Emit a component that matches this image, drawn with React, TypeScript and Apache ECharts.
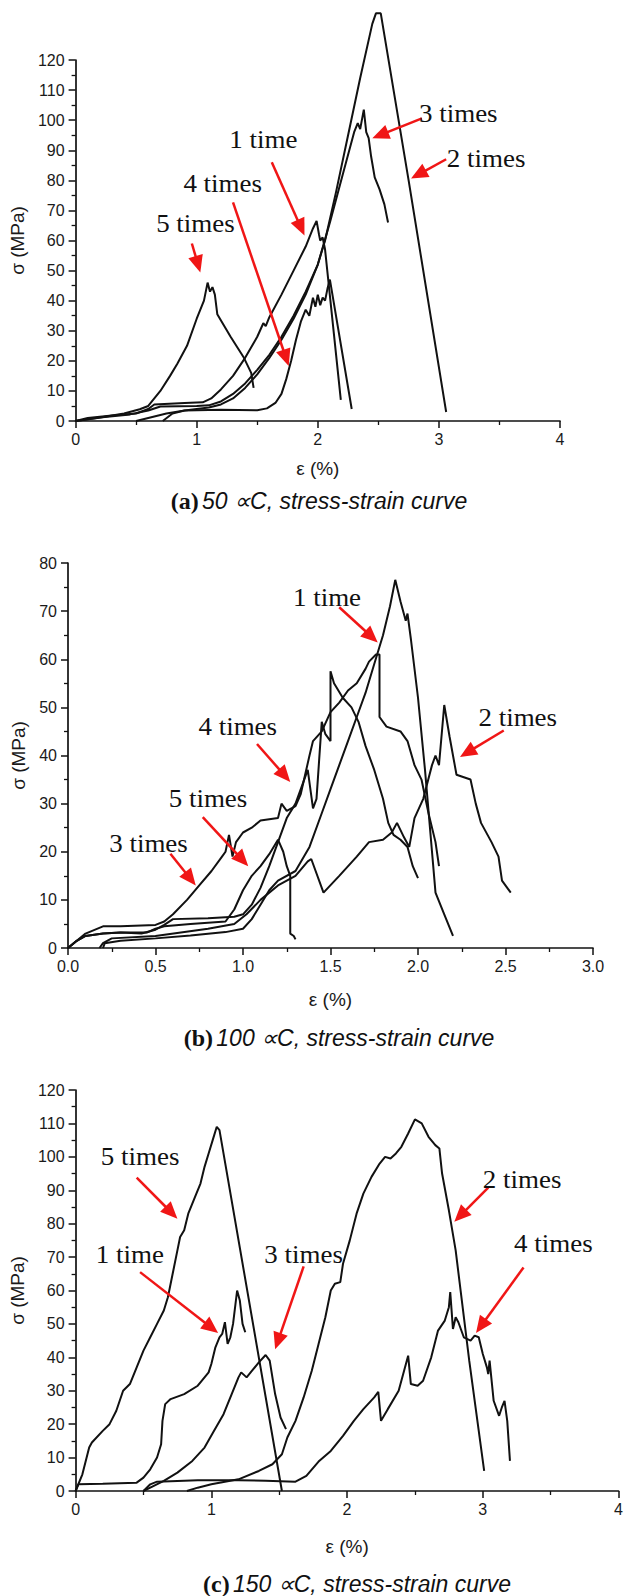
import React, { useEffect, useRef } from 'react';
import * as echarts from 'echarts';

// ---------- Panel (a) 50 ∝C ----------
const a1Time = [[0,0],[0.1,1],[0.3,1.8],[0.5,2.5],[0.6,4],[0.65,5.5],[0.9,6],[1.05,6.2],[1.12,7.5],[1.2,10.5],[1.3,15],[1.4,21],[1.5,28],[1.55,32.5],[1.57,31.5],[1.6,34.5],[1.7,42],[1.8,50],[1.9,58],[1.96,64],[1.99,66.5],[2.01,62],[2.02,60],[2.04,61],[2.06,57],[2.19,7]];
const a2Times = [[0,0],[0.2,1.2],[0.45,2.2],[0.6,3.5],[0.7,4.8],[1.0,5],[1.1,5.2],[1.2,6.5],[1.3,9],[1.4,12.5],[1.5,17],[1.6,22],[1.7,28],[1.8,35],[1.9,43],[2.0,52],[2.06,60],[2.15,76],[2.25,95],[2.35,114],[2.45,132],[2.48,135.5],[2.52,135.5],[2.75,80],[3.06,3]];
const a3Times = [[0.5,0],[0.6,1],[0.75,2.5],[0.9,3.5],[1.1,4.5],[1.2,5.5],[1.3,7.5],[1.4,11],[1.5,15.5],[1.6,21],[1.7,27],[1.8,34],[1.9,42],[2.0,52],[2.1,66],[2.2,81],[2.3,96],[2.33,99],[2.35,97],[2.38,103.5],[2.4,96],[2.42,94],[2.44,88],[2.47,81],[2.51,77],[2.55,72],[2.58,66]];
const a4Times = [[0.72,0],[0.8,2.5],[0.9,3.5],[1.2,3.7],[1.5,3.6],[1.58,4.2],[1.65,6],[1.7,9],[1.74,14],[1.78,20],[1.82,27],[1.86,33],[1.9,37],[1.93,35],[1.96,41],[1.98,38],[2.0,42],[2.02,38.5],[2.04,41],[2.06,40],[2.08,44],[2.1,47],[2.28,4]];
const a5Times = [[0,0],[0.18,1],[0.4,2.5],[0.53,3.9],[0.6,5],[0.7,10],[0.78,15],[0.84,19],[0.92,25],[1.0,34],[1.06,40],[1.09,46],[1.11,43],[1.13,44.5],[1.15,42],[1.17,35.5],[1.28,28],[1.39,21],[1.45,16],[1.47,11]];

// ---------- Panel (b) 100 ∝C ----------
const b1Time = [[0.2,0],[0.21,1],[0.3,1.5],[0.5,2],[0.7,2.6],[0.9,3.3],[1.0,4],[1.05,6],[1.1,9],[1.15,12],[1.2,14],[1.3,16],[1.38,21],[1.45,28],[1.5,33],[1.55,38],[1.6,43],[1.65,48],[1.7,53],[1.75,59],[1.8,65],[1.84,71],[1.87,76.5],[1.9,72],[1.93,68],[1.94,69.5],[1.96,64],[2.0,52],[2.04,37],[2.08,20],[2.1,11.5],[2.15,7],[2.2,2.5]];
const b2Times = [[0.18,0],[0.2,1],[0.25,2],[0.5,2.5],[0.8,4],[0.95,5],[1.02,7],[1.1,10],[1.2,13],[1.3,15],[1.37,18],[1.39,18.5],[1.46,11.5],[1.55,15],[1.65,19],[1.72,22],[1.8,22.5],[1.85,24],[1.88,26],[1.92,23],[1.95,21],[1.98,27],[2.03,31],[2.08,38],[2.1,40],[2.12,38],[2.15,50.5],[2.18,44],[2.22,36],[2.3,35],[2.33,30],[2.36,26],[2.42,22],[2.46,19],[2.48,14],[2.51,12.5],[2.53,11.5]];
const b3Times = [[0,0],[0.05,1.5],[0.1,3],[0.2,4.5],[0.3,4.5],[0.5,4.8],[0.55,5.5],[0.6,7],[0.68,10],[0.75,13],[0.82,16],[0.88,19],[0.9,20],[0.92,23.5],[0.94,19],[0.96,22],[1.0,24],[1.05,25],[1.1,26.5],[1.2,27],[1.22,30],[1.25,28.5],[1.3,29.5],[1.33,32],[1.38,40],[1.4,43],[1.45,45],[1.5,49],[1.55,51],[1.6,53.5],[1.65,55],[1.7,58],[1.72,59.5],[1.76,61],[1.78,61],[1.78,48],[1.82,46],[1.9,45],[1.94,43],[1.98,38],[2.02,35],[2.06,28],[2.1,22],[2.12,17]];
const b4Times = [[0,0],[0.05,1.5],[0.1,2.5],[0.2,3],[0.3,3.2],[0.42,3],[0.5,3.8],[0.55,4.8],[0.6,6],[0.8,6.2],[0.95,6.5],[1.0,7],[1.05,9],[1.1,12.5],[1.15,17],[1.2,22],[1.25,27],[1.3,30],[1.34,34],[1.37,37],[1.4,29],[1.42,31],[1.45,47],[1.47,44.5],[1.5,43],[1.5,57.5],[1.52,55],[1.57,52],[1.62,50],[1.66,47],[1.7,42],[1.75,37],[1.8,31],[1.83,26],[1.86,23.5],[1.9,22.5],[1.94,21],[1.97,17],[2.0,14.5]];
const b5Times = [[0,0],[0.05,1.5],[0.1,2.5],[0.2,3],[0.3,3.2],[0.45,3.2],[0.5,4],[0.55,4.5],[0.7,5],[0.9,5.5],[0.95,8],[1.0,12],[1.05,15],[1.1,17],[1.15,19.5],[1.2,22.5],[1.23,20],[1.25,17],[1.27,15],[1.27,3],[1.29,2.5],[1.3,1.8]];

// ---------- Panel (c) 150 ∝C ----------
const c1Time = [[0,0],[0.02,2],[0.2,2.2],[0.45,2.5],[0.5,4],[0.55,6.5],[0.6,10],[0.63,14],[0.64,21],[0.66,26],[0.7,27.5],[0.8,29],[0.9,31.5],[0.95,34],[0.98,35.5],[1.0,38],[1.03,43],[1.06,46],[1.08,47],[1.1,50.5],[1.12,44],[1.14,46],[1.16,50],[1.19,60],[1.21,57],[1.23,50],[1.25,47.5]];
const c2Times = [[0.82,0],[0.9,1],[1.0,2],[1.2,3.5],[1.35,6],[1.45,8],[1.52,11],[1.56,16],[1.62,21],[1.68,28],[1.74,36],[1.79,44],[1.84,52],[1.88,60],[1.91,62],[1.95,62.5],[1.97,68],[2.02,75],[2.07,83],[2.12,89],[2.18,94],[2.24,98],[2.28,100],[2.32,99.5],[2.36,101],[2.4,103],[2.45,107],[2.5,111.2],[2.55,110],[2.6,106],[2.65,103.5],[2.68,102.5],[2.7,95],[2.75,84],[2.8,72],[2.9,39],[3.01,6]];
const c3Times = [[0.5,0],[0.55,1],[0.65,3],[0.75,5.5],[0.86,9],[0.95,13],[1.02,18],[1.09,23],[1.15,29],[1.2,34],[1.22,35.5],[1.26,34],[1.3,36],[1.35,38.5],[1.4,40.7],[1.43,39],[1.47,29],[1.51,22],[1.55,18.5]];
const c4Times = [[0.5,0],[0.55,2],[0.6,2.8],[0.9,3.2],[1.2,3.2],[1.4,3.1],[1.62,2.8],[1.7,4.5],[1.79,8.8],[1.88,12],[1.97,16.5],[2.05,21],[2.12,24.5],[2.2,28],[2.23,29.7],[2.25,21],[2.3,24.5],[2.38,30],[2.42,36],[2.45,40.5],[2.47,32],[2.52,31.5],[2.56,33],[2.62,40],[2.67,48],[2.72,51],[2.75,55],[2.76,59.5],[2.78,48.5],[2.8,52],[2.82,50.5],[2.86,46],[2.91,45],[2.94,46.5],[2.97,46],[3.0,41],[3.03,37],[3.04,35],[3.05,39],[3.08,27],[3.12,22.5],[3.14,25],[3.16,27],[3.18,21],[3.2,9]];
const c5Times = [[0,0],[0.05,5],[0.1,13],[0.12,14.5],[0.2,18],[0.25,20],[0.3,24],[0.35,30],[0.4,32],[0.45,37],[0.5,42],[0.55,46],[0.6,50],[0.65,54],[0.68,58],[0.72,66],[0.75,72],[0.77,76],[0.8,78],[0.83,83],[0.88,88],[0.92,92],[0.95,97],[0.98,101],[1.01,105],[1.04,109],[1.06,108],[1.52,0]];

// ---------- Axis ranges / ticks ----------
const xMaxes = [4, 3, 4];
const xIntervals = [1, 0.5, 1];
const yMaxes = [120, 80, 120];
const yInterval = 10;
const captions = [['(a)', '50 ∝C, stress-strain curve'], ['(b)', '100 ∝C, stress-strain curve'], ['(c)', '150 ∝C, stress-strain curve']];

// ---------- Annotations: [label, textX, textY, tailX, tailY, headX, headY] in data units ----------
const notesA = [
  ['1 time', 1.55, 93.3, 1.62, 86, 1.89, 61.7],
  ['4 times', 1.215, 79, 1.30, 72.7, 1.76, 18.3],
  ['5 times', 0.99, 65.7, 0.96, 59, 1.03, 49.4],
  ['3 times', 3.16, 102, 2.86, 100.6, 2.45, 94],
  ['2 times', 3.39, 87, 3.06, 87, 2.77, 80.6],
];
const notesB = [
  ['1 time', 1.48, 72.7, 1.55, 70.8, 1.77, 63.5],
  ['2 times', 2.57, 47.8, 2.49, 45.2, 2.24, 39.7],
  ['4 times', 0.97, 46, 1.08, 42.4, 1.27, 34.5],
  ['5 times', 0.80, 31, 0.77, 27.2, 1.03, 17],
  ['3 times', 0.46, 21.7, 0.585, 19.6, 0.73, 13],
];
const notesC = [
  ['5 times', 0.475, 100, 0.45, 93.8, 0.75, 81.5],
  ['1 time', 0.40, 70.7, 0.475, 65.5, 1.05, 47.3],
  ['3 times', 1.68, 70.7, 1.68, 67.2, 1.47, 42.4],
  ['2 times', 3.29, 93, 3.04, 90.8, 2.79, 80.6],
  ['4 times', 3.52, 74, 3.30, 66.9, 2.95, 47.3],
];

const panelSeries = [
  [a1Time, a2Times, a3Times, a4Times, a5Times],
  [b1Time, b2Times, b3Times, b4Times, b5Times],
  [c1Time, c2Times, c3Times, c4Times, c5Times],
];
const panelNotes = [notesA, notesB, notesC];

// layout (pixels)
const grids = [
  { left: 71, top: 60, width: 489, height: 361 },
  { left: 68, top: 563, width: 525, height: 385 },
  { left: 75.5, top: 1090, width: 547.5, height: 401 },
];
const xNameGaps = [38, 42, 46];
const yNameGaps = [41, 38, 45];
const captionPos = [[319, 501], [339, 1038], [357, 1584]];

const SANS = '"Liberation Sans", Arial, sans-serif';
const SERIF = '"Liberation Serif", "Times New Roman", serif';
const RED = '#f01616';
const INK = '#111';

export default function App() {
  const ref = useRef<HTMLDivElement>(null);
  useEffect(() => {
    document.body.style.margin = '0';
    const el = ref.current!;
    const chart = echarts.init(el, null, { renderer: 'svg' });

    const axisCommon = {
      axisLine: { show: true, onZero: false, lineStyle: { color: INK, width: 1.7 } },
      axisTick: { show: true, inside: false, length: 7, lineStyle: { color: INK, width: 1.5 } },
      minorTick: { show: true, splitNumber: 2, length: 4, lineStyle: { color: INK, width: 1.3 } },
      splitLine: { show: false },
      minorSplitLine: { show: false },
    };

    const xAxis = grids.map((_, i) => ({
      type: 'value', gridIndex: i, min: 0, max: xMaxes[i], interval: xIntervals[i],
      name: 'ε (%)', nameLocation: 'middle', nameGap: xNameGaps[i],
      nameTextStyle: { fontFamily: SANS, fontSize: 19, color: '#1a1a1a' },
      axisLabel: {
        fontFamily: SANS, fontSize: 16, color: '#1a1a1a', margin: 10,
        formatter: (v: number) => (xIntervals[i] < 1 ? v.toFixed(1) : String(v)),
      },
      ...axisCommon,
    }));
    const yAxis = grids.map((_, i) => ({
      type: 'value', gridIndex: i, min: 0, max: yMaxes[i], interval: yInterval,
      name: 'σ (MPa)', nameLocation: 'middle', nameGap: yNameGaps[i],
      nameTextStyle: { fontFamily: SANS, fontSize: 19, color: '#1a1a1a' },
      axisLabel: { fontFamily: SANS, fontSize: 16, color: '#1a1a1a', margin: 11 },
      ...axisCommon,
    }));

    const series: any[] = [];
    panelSeries.forEach((list, gi) => {
      list.forEach((data) => {
        series.push({
          type: 'line', xAxisIndex: gi, yAxisIndex: gi, data,
          showSymbol: false, symbol: 'none', clip: false, smooth: false,
          lineStyle: { color: INK, width: 2 }, silent: true, z: 3,
        });
      });
    });

    chart.setOption({
      animation: false,
      backgroundColor: '#fff',
      grid: grids.map((g) => ({ ...g, containLabel: false })),
      xAxis, yAxis, series,
    });

    const graphics: any[] = [];
    panelNotes.forEach((notes, gi) => {
      notes.forEach((n: any) => {
        const [label, tx, ty, x1, y1, x2, y2] = n;
        const t = chart.convertToPixel({ gridIndex: gi }, [tx, ty]) as number[];
        const p1 = chart.convertToPixel({ gridIndex: gi }, [x1, y1]) as number[];
        const p2 = chart.convertToPixel({ gridIndex: gi }, [x2, y2]) as number[];
        const dx = p2[0] - p1[0], dy = p2[1] - p1[1];
        const len = Math.sqrt(dx * dx + dy * dy) || 1;
        const ux = dx / len, uy = dy / len;
        const headLen = 17, headHalf = 7.5;
        const bx = p2[0] - ux * headLen, by = p2[1] - uy * headLen;
        graphics.push({
          type: 'line', z: 10,
          shape: { x1: p1[0], y1: p1[1], x2: bx + ux * 2, y2: by + uy * 2 },
          style: { stroke: RED, lineWidth: 2.5 },
        });
        graphics.push({
          type: 'polygon', z: 10,
          shape: { points: [[p2[0], p2[1]], [bx - uy * headHalf, by + ux * headHalf], [bx + uy * headHalf, by - ux * headHalf]] },
          style: { fill: RED },
        });
        graphics.push({
          type: 'text', z: 11, x: t[0], y: t[1], scaleX: 1.08,
          style: {
            text: label, fill: INK, font: `25px ${SERIF}`,
            align: 'center', verticalAlign: 'middle', textAlign: 'center', textVerticalAlign: 'middle',
          },
        });
      });
    });

    captions.forEach((c, i) => {
      graphics.push({
        type: 'text', z: 11, x: captionPos[i][0], y: captionPos[i][1],
        style: {
          text: `{b|${c[0]}} {i|${c[1]}}`,
          align: 'center', verticalAlign: 'middle', textAlign: 'center', textVerticalAlign: 'middle',
          fill: INK,
          rich: {
            b: { fontFamily: SERIF, fontWeight: 'bold', fontSize: 24, fill: INK, color: INK },
            i: { fontFamily: SANS, fontStyle: 'italic', fontSize: 23, fill: INK, color: INK },
          },
        },
      });
    });

    chart.setOption({ graphic: graphics });

    return () => chart.dispose();
  }, []);
  return <div ref={ref} style={{ width: 626, height: 1596 }} />;
}
